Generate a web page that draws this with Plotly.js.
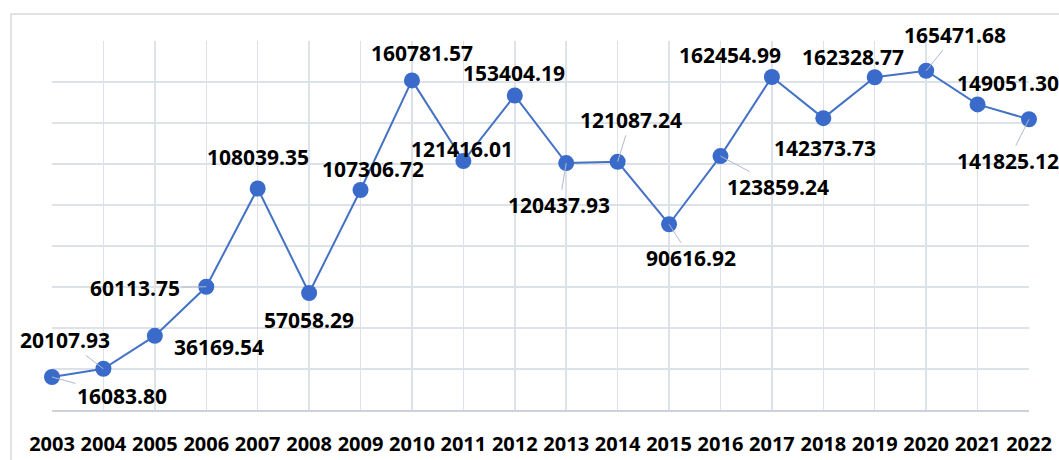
<!DOCTYPE html>
<html>
<head>
<meta charset="utf-8">
<script src="https://cdn.plot.ly/plotly-3.0.1.min.js"></script>
<style>
html,body{margin:0;padding:0;background:#fff;}
#chart{width:1059px;height:460px;}
</style>
</head>
<body>
<div id="chart"></div>
<script>
// ---- data ----
const years = [2003,2004,2005,2006,2007,2008,2009,2010,2011,2012,2013,2014,2015,2016,2017,2018,2019,2020,2021,2022];
const values = [16083.80,20107.93,36169.54,60113.75,108039.35,57058.29,107306.72,160781.57,121416.01,153404.19,120437.93,121087.24,90616.92,123859.24,162454.99,142373.73,162328.77,165471.68,149051.30,141825.12];
const labels = values.map(v => v.toFixed(2));

// ---- label placement (pixel offsets from each point) and whether a leader line is drawn ----
const offX = [70,-38,64,-71,0,0,12,10,-1,-1,-7,13,22,58,-42,2,-22,29,30,-21];
const offY = [19,-29,11,1,-32,27,-21,-27,-12,-23,42,-42,34,31,-22,30,-20,-36,-21,42];
const leader = [true,true,false,true,false,false,false,false,false,false,true,true,true,true,false,false,false,true,false,true];

const trace = {
  x: years, y: values, type: 'scatter', mode: 'lines+markers',
  line: {color: '#4472C4', width: 2},
  marker: {size: 16, color: '#3A6BCB', line: {width: 0}},
  cliponaxis: false, hoverinfo: 'skip'
};

const annotations = years.map((yr, i) => ({
  x: yr, y: values[i], xref: 'x', yref: 'y',
  text: labels[i], showarrow: true, arrowhead: 0, arrowwidth: 1,
  arrowcolor: leader[i] ? '#AEBBCD' : 'rgba(0,0,0,0)',
  ax: offX[i], ay: offY[i], standoff: 0, startstandoff: 0,
  font: {family: 'Open Sans', size: 21, color: '#000', weight: 'bold'}
}));

const layout = {
  width: 1059, height: 460,
  margin: {l: 52, r: 30, t: 41, b: 50},
  paper_bgcolor: '#fff', plot_bgcolor: '#fff',
  showlegend: false,
  xaxis: {
    range: [2003, 2022], tickmode: 'array', tickvals: years, ticktext: years.map(String),
    showgrid: true, gridcolor: '#DDE1E8', gridwidth: 1.5, zeroline: false,
    showline: true, linecolor: '#CDD2DA', linewidth: 1.5, ticks: '',
    ticklabelstandoff: 15,
    tickfont: {family: 'Open Sans', size: 20, color: '#000', weight: 'bold'}
  },
  yaxis: {
    range: [0, 180000], dtick: 20000, showticklabels: false,
    showgrid: true, gridcolor: '#DDE1E8', gridwidth: 1.5, zeroline: false, ticks: ''
  },
  annotations: annotations,
  shapes: [{
    type: 'rect', xref: 'paper', yref: 'paper',
    x0: -41/977, x1: 1.04, y0: -0.2, y1: (410-14)/369,
    line: {color: '#D9D9D9', width: 1.5}, layer: 'below'
  }]
};

Plotly.newPlot('chart', [trace], layout, {displayModeBar: false, staticPlot: true});
</script>
</body>
</html>
